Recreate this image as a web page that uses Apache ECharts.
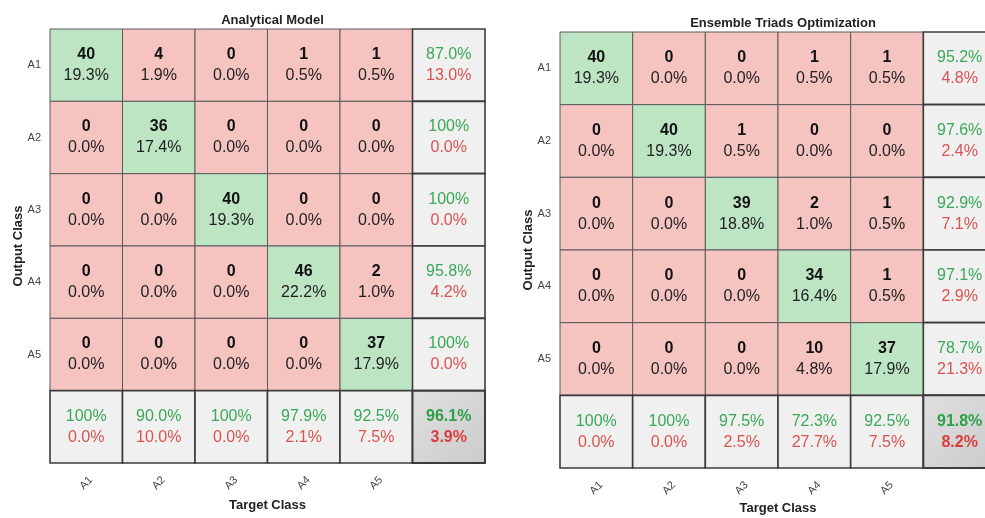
<!DOCTYPE html>
<html>
<head>
<meta charset="utf-8">
<style>
  html, body { margin: 0; padding: 0; background: #ffffff; }
  #chart { width: 985px; height: 518px; }
</style>
<script src="https://cdn.jsdelivr.net/npm/echarts@6/dist/echarts.min.js"></script>
</head>
<body>
<div id="chart"></div>
<script>
// Class labels shared by both matrices
const classes = ['A1', 'A2', 'A3', 'A4', 'A5'];

// Confusion counts: rows = output class, columns = target class
const analyticalCounts = [
  [40, 4, 0, 1, 1],
  [0, 36, 0, 0, 0],
  [0, 0, 40, 0, 0],
  [0, 0, 0, 46, 2],
  [0, 0, 0, 0, 37]
];
const ensembleCounts = [
  [40, 0, 0, 1, 1],
  [0, 40, 1, 0, 0],
  [0, 0, 39, 2, 1],
  [0, 0, 0, 34, 1],
  [0, 0, 0, 10, 37]
];

const titles = ['Analytical Model', 'Ensemble Triads Optimization'];

const COLORS = {
  hit: '#bde5c4',
  miss: '#f5c3c0',
  summary: '#f0f0f0',
  grid: '#5a5a5a',
  sep: '#3c3c3c',
  good: '#3aa856',
  bad: '#d9534f',
  goodStrong: '#2e9e48',
  badStrong: '#de3b3b'
};

function pct(v) {
  return v >= 99.95 ? '100%' : v.toFixed(1) + '%';
}

// Turn a count matrix into cell descriptors (main cells first, summaries last)
function buildCells(m) {
  const n = m.length;
  let total = 0, diag = 0;
  const rowSum = new Array(n).fill(0), colSum = new Array(n).fill(0);
  for (let r = 0; r < n; r++) {
    for (let c = 0; c < n; c++) {
      total += m[r][c];
      rowSum[r] += m[r][c];
      colSum[c] += m[r][c];
      if (r === c) diag += m[r][c];
    }
  }
  const main = [], summary = [];
  for (let r = 0; r < n; r++) {
    for (let c = 0; c < n; c++) {
      main.push({
        value: [c, r],
        kind: r === c ? 'hit' : 'miss',
        top: String(m[r][c]),
        bottom: (m[r][c] / total * 100).toFixed(1) + '%'
      });
    }
  }
  for (let r = 0; r < n; r++) {
    const ok = m[r][r] / rowSum[r] * 100;
    summary.push({ value: [n, r], kind: 'summary', top: pct(ok), bottom: (100 - ok).toFixed(1) + '%' });
  }
  for (let c = 0; c < n; c++) {
    const ok = m[c][c] / colSum[c] * 100;
    summary.push({ value: [c, n], kind: 'summary', top: pct(ok), bottom: (100 - ok).toFixed(1) + '%' });
  }
  const okAll = diag / total * 100;
  summary.push({ value: [n, n], kind: 'overall', top: pct(okAll), bottom: (100 - okAll).toFixed(1) + '%' });
  return main.concat(summary);
}

const FONT = '"Liberation Sans", Arial, Helvetica, sans-serif';

function richPair(topFill, bottomFill, topBold, bottomBold) {
  return {
    t: { fontFamily: FONT, fontSize: 16, fontWeight: topBold ? 'bold' : 'normal', fill: topFill, lineHeight: 21 },
    b: { fontFamily: FONT, fontSize: 16, fontWeight: bottomBold ? 'bold' : 'normal', fill: bottomFill, lineHeight: 21 }
  };
}

function makeRenderer(cells) {
  return function (params, api) {
    const cell = cells[params.dataIndex];
    const p = api.coord([api.value(0), api.value(1)]);
    const s = api.size([1, 1]);
    let fill, stroke = COLORS.grid, lw = 1, rich;
    if (cell.kind === 'hit' || cell.kind === 'miss') {
      fill = COLORS[cell.kind];
      rich = richPair('#111111', '#222222', true, false);
    } else if (cell.kind === 'summary') {
      fill = COLORS.summary; stroke = COLORS.sep; lw = 1.6;
      rich = richPair(COLORS.good, COLORS.bad, false, false);
    } else {
      fill = new echarts.graphic.LinearGradient(0, 0, 1, 1, [
        { offset: 0, color: '#e0e0e0' },
        { offset: 1, color: '#cbcbcb' }
      ]);
      stroke = COLORS.sep; lw = 2;
      rich = richPair(COLORS.goodStrong, COLORS.badStrong, true, true);
    }
    return {
      type: 'rect',
      shape: { x: p[0] - s[0] / 2, y: p[1] - s[1] / 2, width: s[0], height: s[1] },
      style: { fill: fill, stroke: stroke, lineWidth: lw },
      textContent: {
        style: {
          text: '{t|' + cell.top + '}\n{b|' + cell.bottom + '}',
          rich: rich,
          align: 'center',
          verticalAlign: 'middle'
        }
      },
      textConfig: { position: 'inside', inside: false }
    };
  };
}

const cellSets = [buildCells(analyticalCounts), buildCells(ensembleCounts)];
const gridBoxes = [
  { left: 50, top: 29, width: 435, height: 434 },
  { left: 560, top: 32, width: 436, height: 436 }
];
const axisCats = classes.concat(['']);

const option = {
  animation: false,
  backgroundColor: '#ffffff',
  title: titles.map((t, i) => ({
    text: t,
    left: gridBoxes[i].left + gridBoxes[i].width / 2,
    top: i === 0 ? 9 : 12,
    textAlign: 'center',
    textStyle: { fontFamily: FONT, fontSize: 13, fontWeight: 'bold', color: '#222' }
  })),
  grid: gridBoxes.map(g => Object.assign({ containLabel: false, outerBoundsMode: 'none' }, g)),
  xAxis: gridBoxes.map((g, i) => ({
    type: 'category',
    gridIndex: i,
    data: axisCats,
    name: 'Target Class',
    nameLocation: 'middle',
    nameGap: i === 0 ? 36 : 34,
    nameMoveOverlap: false,
    nameTextStyle: { fontFamily: FONT, fontSize: 13, fontWeight: 'bold', color: '#222' },
    axisLine: { show: false },
    axisTick: { show: false },
    splitLine: { show: false },
    axisLabel: {
      rotate: 45,
      align: 'center',
      verticalAlign: 'middle',
      margin: 20,
      fontFamily: FONT,
      fontSize: 11,
      color: '#444'
    }
  })),
  yAxis: gridBoxes.map((g, i) => ({
    type: 'category',
    gridIndex: i,
    inverse: true,
    data: axisCats,
    name: 'Output Class',
    nameLocation: 'middle',
    nameGap: 25,
    nameMoveOverlap: false,
    nameTextStyle: { fontFamily: FONT, fontSize: 13, fontWeight: 'bold', color: '#222' },
    axisLine: { show: false },
    axisTick: { show: false },
    splitLine: { show: false },
    axisLabel: { margin: 9, fontFamily: FONT, fontSize: 11, color: '#444' }
  })),
  series: cellSets.map((cells, i) => ({
    type: 'custom',
    xAxisIndex: i,
    yAxisIndex: i,
    clip: false,
    data: cells.map(c => c.value),
    renderItem: makeRenderer(cells)
  }))
};

const chart = echarts.init(document.getElementById('chart'), null, { renderer: 'canvas' });
chart.setOption(option);
</script>
</body>
</html>
